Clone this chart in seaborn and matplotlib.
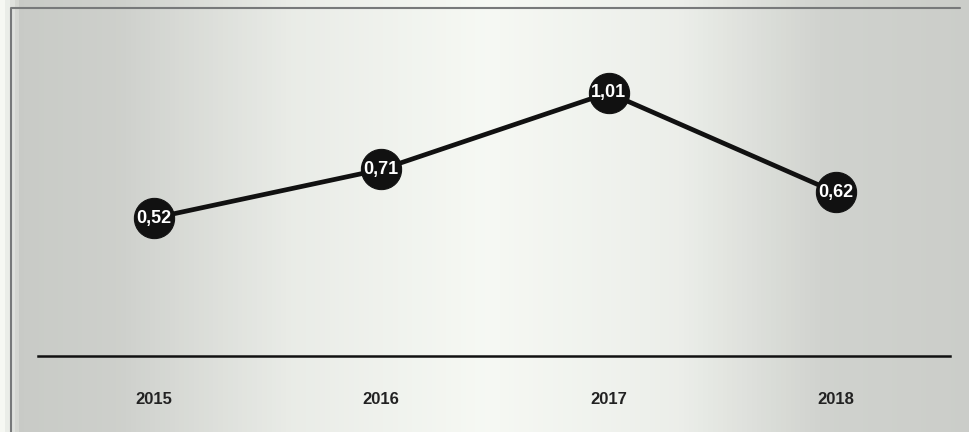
import numpy as np
import pandas as pd
import matplotlib
matplotlib.use("Agg")
import matplotlib.pyplot as plt
import seaborn as sns

years = ["2015", "2016", "2017", "2018"]
values = [0.52, 0.71, 1.01, 0.62]
value_labels = ["0,52", "0,71", "1,01", "0,62"]

sns.set_style("white")
plt.rcParams["font.family"] = ["Liberation Sans Narrow", "Liberation Sans", "DejaVu Sans"]

df = pd.DataFrame({"year": years, "value": values, "label": value_labels})
df["pos"] = range(len(df))

fig = plt.figure(figsize=(9.7, 4.32), dpi=100)

# scanned-paper look: grey edges, lighter middle
bg = fig.add_axes([0, 0, 1, 1], zorder=-1)
xs = np.linspace(0, 1, 200)
light = np.interp(xs, [0, 0.02, 0.12, 0.3, 0.5, 0.7, 0.85, 1.0],
                  [0.98, 0.80, 0.82, 0.93, 0.98, 0.94, 0.83, 0.81])
rgb = np.stack([light * 0.985, light * 0.995, light * 0.975], axis=-1)
bg.imshow(np.tile(rgb[None, :, :], (10, 1, 1)), aspect="auto",
          extent=[0, 1, 0, 1])
bg.plot([0.011, 0.011, 0.99], [0.0, 0.982, 0.982], color="#77797a", lw=1.5,
        transform=bg.transAxes)
bg.set_xlim(0, 1)
bg.set_ylim(0, 1)
bg.set_axis_off()

ax = fig.add_axes([0.039, 0.176, 0.94, 0.806])
ax.patch.set_alpha(0)

sns.lineplot(data=df, x="pos", y="value", color="#111111", linewidth=3.4,
             marker="o", markersize=29, markerfacecolor="#111111",
             markeredgecolor="#111111", ax=ax)

for _, r in df.iterrows():
    ax.text(r["pos"], r["value"], r["label"], color="white", fontsize=13,
            fontweight="bold", ha="center", va="center")

ax.set_xlim(-0.51, 3.5)
ax.set_ylim(-0.02, 1.343)
ax.set_xticks(df["pos"])
ax.set_xticklabels(df["year"], fontsize=12, color="#222222",
                   fontweight="bold", family=["Liberation Sans", "DejaVu Sans"])
ax.tick_params(axis="x", length=0, pad=26)
ax.set_yticks([])
ax.set_xlabel("")
ax.set_ylabel("")
for side in ["top", "left", "right"]:
    ax.spines[side].set_visible(False)
ax.spines["bottom"].set_color("#111111")
ax.spines["bottom"].set_linewidth(1.8)

fig.savefig("out.png", dpi=100)
